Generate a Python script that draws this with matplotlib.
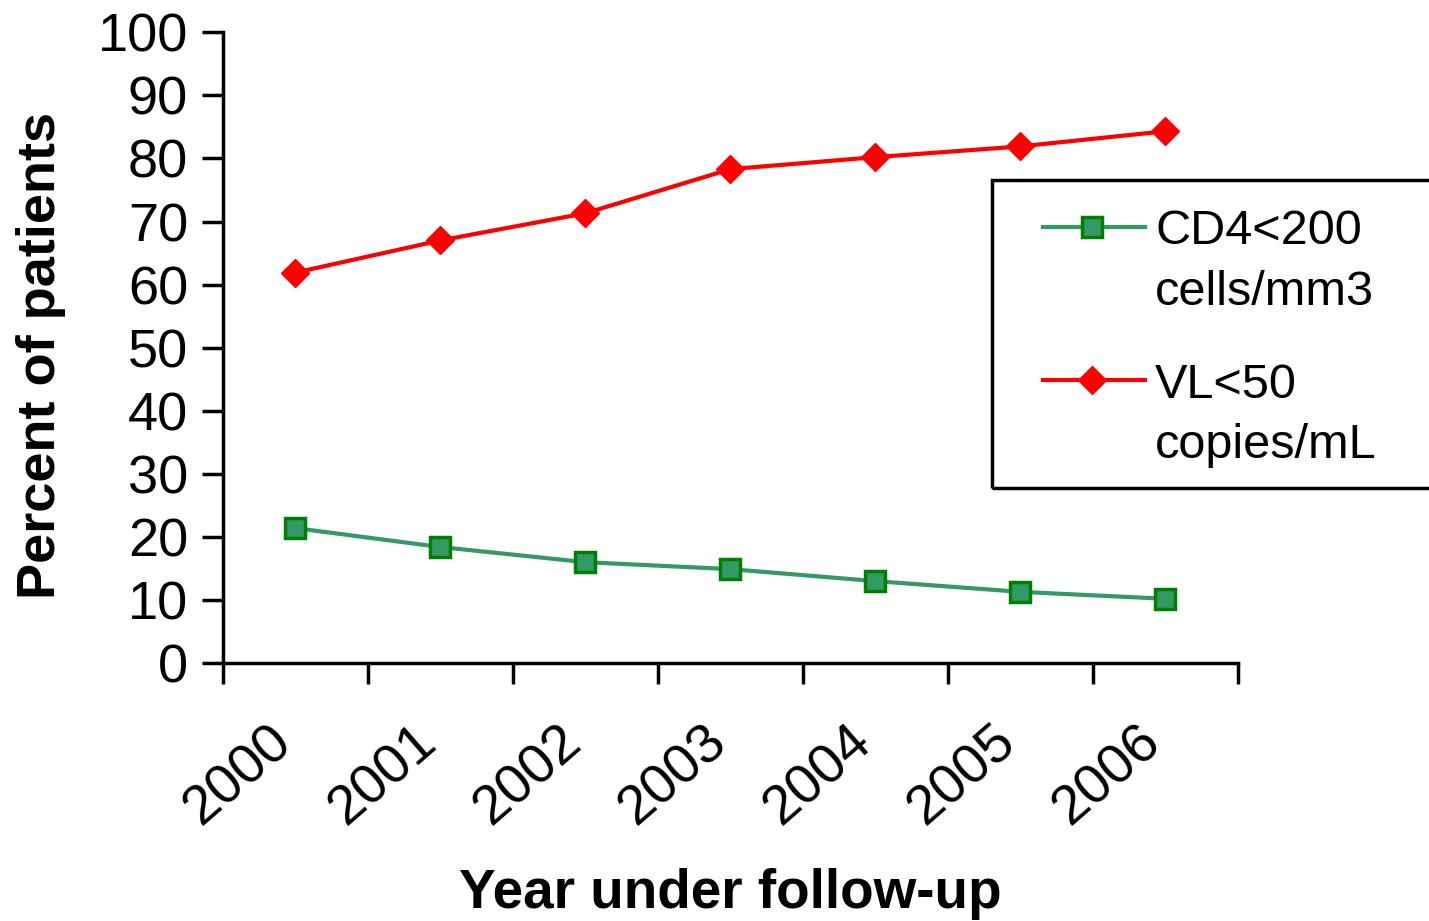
import matplotlib.pyplot as plt
import matplotlib.transforms as mtransforms
from matplotlib.lines import Line2D
from matplotlib.patches import Rectangle

plt.rcParams['font.family'] = ['Liberation Sans', 'DejaVu Sans']

years = ['2000', '2001', '2002', '2003', '2004', '2005', '2006']
cd4_low = [21.4, 18.4, 16.0, 14.9, 13.0, 11.3, 10.2]
vl_low = [61.9, 67.0, 71.3, 78.3, 80.2, 81.9, 84.3]
series_names = [('CD4<200', 'cells/mm3'), ('VL<50', 'copies/mL')]

W, H = 1429, 921
fig = plt.figure(figsize=(W / 100, H / 100), dpi=100)
ax = fig.add_axes([0.156, 0.28, 0.71, 0.685])

x = list(range(len(years)))

green_style = dict(color='#339966', linewidth=3, marker='s', markersize=15,
                   markerfacecolor='#339966', markeredgecolor='#008000', markeredgewidth=2.5)
red_style = dict(color='#FF0000', linewidth=3, marker='D', markersize=14,
                 markerfacecolor='#FF0000', markeredgecolor='#FF0000')

ax.plot(x, cd4_low, **green_style)
ax.plot(x, vl_low, **red_style)

ax.set_xlim(-0.5, len(years) - 0.5)
ax.set_ylim(0, 100)
ax.set_yticks(range(0, 101, 10))

# tick marks between categories, labels at centres
ax.set_xticks(x)
ax.set_xticklabels(years, rotation=41, ha='right', rotation_mode='anchor')
ax.set_xticks([i - 0.5 for i in range(len(years) + 1)], minor=True)
ax.tick_params(axis='x', which='major', length=0, pad=22, labelsize=40)
ax.tick_params(axis='x', which='minor', length=15, width=2.5)
ax.tick_params(axis='y', length=15, width=2.5, labelsize=39, pad=10)

shift = mtransforms.ScaledTranslation(-0.28, -0.22, fig.dpi_scale_trans)
for lab in ax.get_xticklabels():
    lab.set_transform(lab.get_transform() + shift)

for side in ['top', 'right']:
    ax.spines[side].set_visible(False)
for side in ['left', 'bottom']:
    ax.spines[side].set_linewidth(2.5)

ax.set_xlabel('Year under follow-up', fontsize=39.5, fontweight='bold')
ax.set_ylabel('Percent of patients', fontsize=39, fontweight='bold')
ax.xaxis.set_label_coords(0.5, -0.325)
ax.yaxis.set_label_coords(-0.155, 0.487)

# legend box in the Excel style: marker aligned with the first text line
def fx(px):
    return px / W

def fy(py):
    return 1 - py / H

fig.add_artist(Rectangle((fx(992), fy(488)), fx(1450) - fx(992), fy(180) - fy(488),
                         transform=fig.transFigure, fill=False, edgecolor='black',
                         linewidth=2.5, clip_on=False))
for (top, bottom), style, py in zip(series_names, [green_style, red_style], [227, 380]):
    fig.add_artist(Line2D([fx(1043), fx(1145)], [fy(py), fy(py)], transform=fig.transFigure,
                          color=style['color'], linewidth=style['linewidth']))
    fig.add_artist(Line2D([fx(1092)], [fy(py)], transform=fig.transFigure, linestyle='none',
                          **{k: v for k, v in style.items() if k not in ('color', 'linewidth')}))
    fig.text(fx(1155), fy(py), top, fontsize=35, va='center_baseline')
    fig.text(fx(1155), fy(py + 60), bottom, fontsize=35, va='center_baseline')

fig.savefig('out.png', dpi=100)
